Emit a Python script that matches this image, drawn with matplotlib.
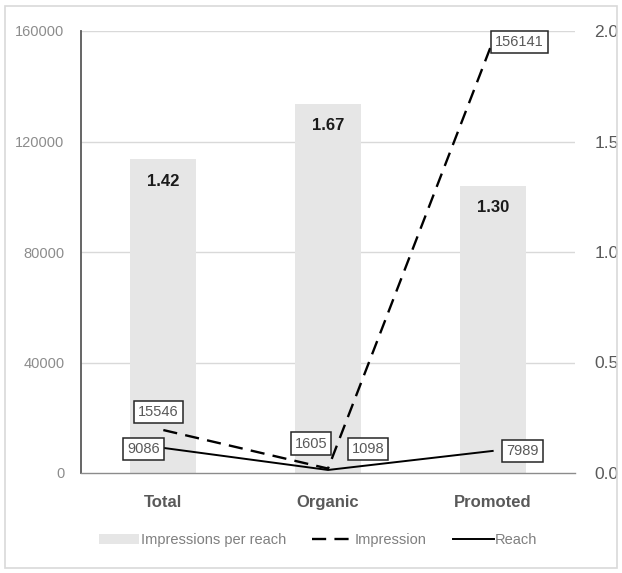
import matplotlib.pyplot as plt
from matplotlib.lines import Line2D
from matplotlib.patches import Patch, Rectangle

categories = ["Total", "Organic", "Promoted"]
impr_per_reach = [1.42, 1.67, 1.30]
impressions = [15546, 1605, 156141]
reach = [9086, 1098, 7989]

left_ticks = [0, 40000, 80000, 120000, 160000]
right_ticks = [0.0, 0.5, 1.0, 1.5, 2.0]

# label offsets in pixels from each data point
impr_offsets = [(-5, 18), (-17, 25), (27, 0)]
reach_offsets = [(-20, -1), (40, 21), (30, 0)]

plt.rcParams["font.family"] = ["Liberation Sans", "DejaVu Sans"]

fig = plt.figure(figsize=(6.22, 5.73), dpi=100)
fig.patch.set_facecolor("white")
fig.add_artist(Rectangle((5 / 622, 5 / 573), 612 / 622, 562 / 573,
                         transform=fig.transFigure, fill=False,
                         edgecolor="#d9d9d9", linewidth=1.2))

ax = fig.add_axes([81 / 622, 100 / 573, 494 / 622, 442 / 573])
ax2 = ax.twinx()
ax2.set_zorder(0)
ax.set_zorder(1)
ax.patch.set_visible(False)

x = range(len(categories))
bars = ax2.bar(x, impr_per_reach, width=0.4, color="#e6e6e6", zorder=2)
for b, v in zip(bars, impr_per_reach):
    ax2.annotate(f"{v:.2f}", (b.get_x() + b.get_width() / 2, v),
                 xytext=(0, -22), textcoords="offset pixels",
                 ha="center", va="center", fontsize=12, fontweight="bold",
                 color="#1a1a1a")

ax.plot(x, impressions, color="black", linestyle=(0, (6, 3.5)), linewidth=1.7, zorder=3)
ax.plot(x, reach, color="black", linestyle="-", linewidth=1.4, zorder=3)

box = dict(boxstyle="square,pad=0.28", facecolor="white", edgecolor="#262626", linewidth=1.1)
for xi, v, off in zip(x, impressions, impr_offsets):
    ax.annotate(f"{v}", (xi, v), xytext=off, textcoords="offset pixels",
                ha="center", va="center", fontsize=10.5, color="#595959",
                bbox=box, zorder=5)
for xi, v, off in zip(x, reach, reach_offsets):
    ax.annotate(f"{v}", (xi, v), xytext=off, textcoords="offset pixels",
                ha="center", va="center", fontsize=10.5, color="#595959",
                bbox=box, zorder=5)

ax.set_xlim(-0.5, 2.5)
ax.set_ylim(0, 160000)
ax.set_yticks(left_ticks)
ax.set_yticklabels([str(t) for t in left_ticks], fontsize=10.5, color="#8c8c8c")
ax.set_xticks(list(x))
ax.set_xticklabels(categories, fontsize=12, fontweight="bold", color="#595959")
ax.tick_params(axis="y", length=0, pad=12)
ax.tick_params(axis="x", length=0, pad=16)

ax2.set_ylim(0, 2.0)
ax2.set_yticks(right_ticks)
ax2.set_yticklabels([f"{t:.1f}" for t in right_ticks], fontsize=12.5, color="#595959")
ax2.tick_params(axis="y", length=0, pad=14)

for t in left_ticks[1:]:
    ax2.axhline(t / 80000, color="#d9d9d9", linewidth=1.0, zorder=0)

for a in (ax, ax2):
    a.spines["top"].set_visible(False)
    a.spines["right"].set_visible(False)
    a.spines["left"].set_visible(False)
ax.spines["left"].set_visible(True)
ax.spines["left"].set_color("#595959")
ax.spines["left"].set_linewidth(1.3)
ax.spines["bottom"].set_color("#8c8c8c")
ax.spines["bottom"].set_linewidth(1.0)
ax2.spines["bottom"].set_visible(False)

handles = [
    Patch(facecolor="#e6e6e6", edgecolor="none", label="Impressions per reach"),
    Line2D([], [], color="black", linestyle=(0, (6, 3.5)), linewidth=1.7, label="Impression"),
    Line2D([], [], color="black", linestyle="-", linewidth=1.4, label="Reach"),
]
leg = fig.legend(handles=handles, loc="center", bbox_to_anchor=(318 / 622, 1 - 540 / 573),
                 ncol=3, frameon=False, fontsize=10.5, handlelength=2.8, handletextpad=0.1,
                 columnspacing=1.8)
for t in leg.get_texts():
    t.set_color("#7f7f7f")

fig.savefig("out.png", dpi=100, facecolor="white")
